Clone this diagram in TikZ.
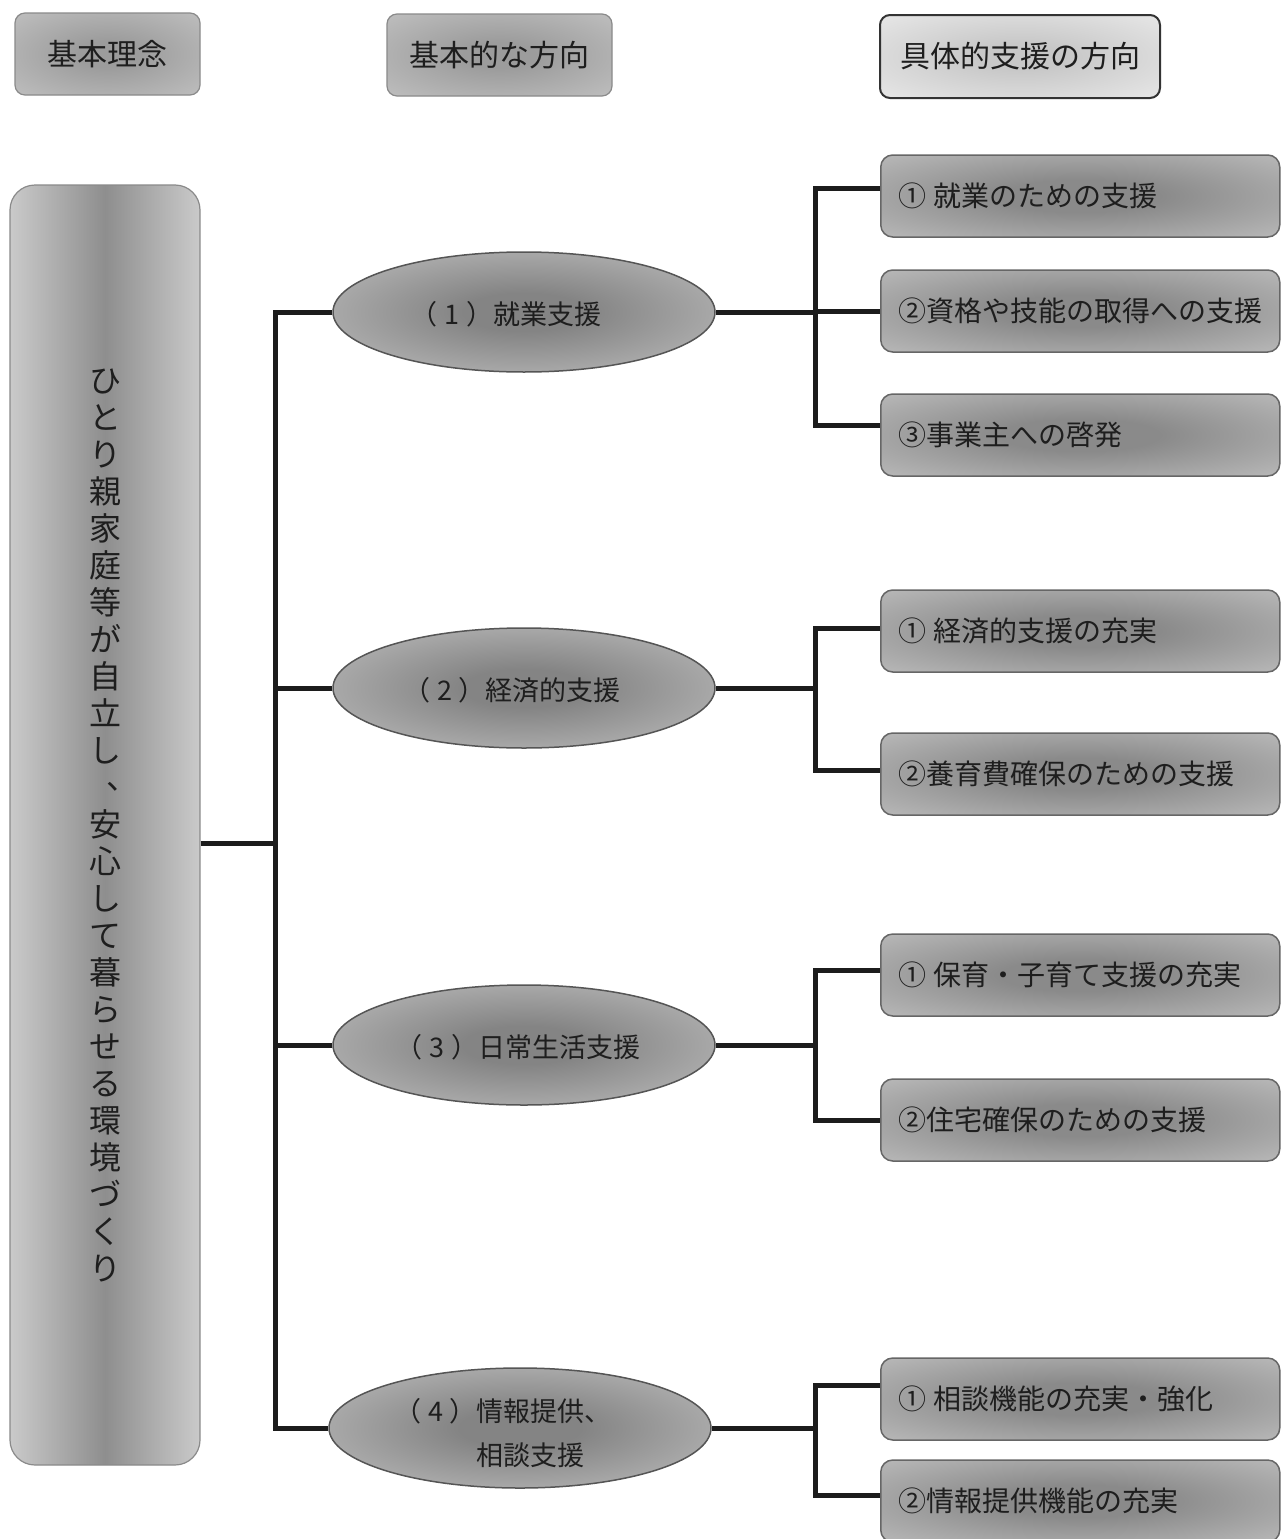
\documentclass[tikz,border=0pt]{standalone}
\usepackage{fontspec}
\setmainfont{Noto Sans CJK JP}
\usetikzlibrary{shapes.geometric}
\definecolor{boxin}{HTML}{8A8A8A}
\definecolor{boxout}{HTML}{C4C4C4}
\definecolor{ellin}{HTML}{848484}
\definecolor{ellout}{HTML}{C8C8C8}
\definecolor{hdrin}{HTML}{9C9C9C}
\definecolor{hdrout}{HTML}{C6C6C6}
\definecolor{ltin}{HTML}{C8C8C8}
\definecolor{ltout}{HTML}{EEEEEE}
\definecolor{leftin}{HTML}{8E8E8E}
\definecolor{leftout}{HTML}{CACACA}
\definecolor{boxline}{HTML}{666666}
\definecolor{ellline}{HTML}{555555}
\definecolor{hdrline}{HTML}{8A8A8A}
\definecolor{darkline}{HTML}{333333}
\definecolor{linec}{HTML}{1C1C1C}
\definecolor{textc}{HTML}{1E1E1E}
\pgfdeclareradialshading{boxshade}{\pgfpoint{0bp}{0bp}}{color(0bp)=(boxin); color(10bp)=(boxin); color(42bp)=(boxout); color(50bp)=(boxout)}
\pgfdeclareradialshading{ellshade}{\pgfpoint{0bp}{0bp}}{color(0bp)=(ellin); color(8bp)=(ellin); color(40bp)=(ellout); color(50bp)=(ellout)}
\pgfdeclareradialshading{hdrshade}{\pgfpoint{0bp}{0bp}}{color(0bp)=(hdrin); color(8bp)=(hdrin); color(42bp)=(hdrout); color(50bp)=(hdrout)}
\pgfdeclareradialshading{ltshade}{\pgfpoint{0bp}{0bp}}{color(0bp)=(ltin); color(8bp)=(ltin); color(42bp)=(ltout); color(50bp)=(ltout)}
\newcommand{\vcm}{\makebox[1em][l]{\hspace{0.55em}\raisebox{0.3em}{、}}}
\newcommand{\num}[1]{（\hspace{0.25em}#1\hspace{0.25em}）}
\begin{document}
\begin{tikzpicture}[x=1pt,y=-1pt,
  conn/.style={line width=5pt, draw=linec},
  hdr/.style={rectangle, rounded corners=10pt, draw=hdrline, line width=1.2pt, shade, shading=hdrshade, minimum height=82pt, font=\fontsize{30}{36}\selectfont, text=textc},
  hdrlt/.style={rectangle, rounded corners=10pt, draw=darkline, line width=2pt, shade, shading=ltshade, minimum height=83pt, font=\fontsize{30}{36}\selectfont, text=textc},
  rbox/.style={rectangle, rounded corners=12pt, draw=boxline, line width=1.5pt, shade, shading=boxshade, minimum width=399pt, minimum height=82pt, text width=363pt, inner xsep=18pt, align=left, anchor=west, font=\fontsize{28}{34}\selectfont, text=textc},
  ell/.style={ellipse, draw=ellline, line width=1.5pt, shade, shading=ellshade, minimum width=382pt, minimum height=120pt, inner sep=0pt, align=left, font=\fontsize{27}{44}\selectfont, text=textc},
  elltext/.style={font=\fontsize{27}{44}\selectfont, text=textc, align=left, inner sep=0pt},
  leftbox/.style={rectangle, rounded corners=25pt, draw=hdrline, line width=1.2pt, left color=leftout, right color=leftout, middle color=leftin, minimum width=190pt, minimum height=1280pt, align=center, font=\fontsize{32}{37}\selectfont, text=textc}
]
\useasboundingbox (0,0) rectangle (1281,1539);
\clip (0,0) rectangle (1281,1539);
\fill[white] (0,0) rectangle (1281,1539);

% headers
\node[hdr, minimum width=185pt] (H1) at (107.5,54) {基本理念};
\node[hdr, minimum width=225pt] (H2) at (499.5,55) {基本的な方向};
\node[hdrlt, minimum width=280pt] (H3) at (1020,56.5) {具体的支援の方向};

% left concept box
\node[leftbox] (L) at (105,825) {ひ\\と\\り\\親\\家\\庭\\等\\が\\自\\立\\し\\\vcm\\安\\心\\し\\て\\暮\\ら\\せ\\る\\環\\境\\づ\\く\\り};

% ellipses
\node[ell] (E1) at (524,312) {};
\node[ell] (E2) at (524,688) {};
\node[ell] (E3) at (524,1045) {};
\node[ell] (E4) at (520,1428) {};
\node[elltext] (t1) at (506,314) {\num{1}就業支援};
\node[elltext] (t2) at (512,690) {\num{2}経済的支援};
\node[elltext] (t3) at (518,1047) {\num{3}日常生活支援};
\node[elltext] (t4) at (503,1433) {\num{4}情報提供、\\\phantom{\num{4}}相談支援};

% right boxes
\node[rbox] (R11) at (880,196) {①\hspace{0.25em}就業のための支援};
\node[rbox] (R12) at (880,311) {②資格や技能の取得への支援};
\node[rbox] (R13) at (880,435) {③事業主への啓発};
\node[rbox] (R21) at (880,631) {①\hspace{0.25em}経済的支援の充実};
\node[rbox] (R22) at (880,774) {②養育費確保のための支援};
\node[rbox] (R31) at (880,975) {①\hspace{0.25em}保育・子育て支援の充実};
\node[rbox] (R32) at (880,1120) {②住宅確保のための支援};
\node[rbox] (R41) at (880,1399) {①\hspace{0.25em}相談機能の充実・強化};
\node[rbox] (R42) at (880,1501) {②情報提供機能の充実};

% trunk
\coordinate (T) at (275,843);
\draw[conn] (L.east |- T) -- (T);
\draw[conn] (E1.west) -| (E4.west -| T) -- (E4.west);
\draw[conn] (E2.west) -- (E2.west -| T);
\draw[conn] (E3.west) -- (E3.west -| T);

% brackets
\coordinate (B1) at (815,312);
\coordinate (B2) at (815,688);
\coordinate (B3) at (815,1045);
\coordinate (B4) at (815,1428);
\draw[conn] (E1.east) -- (B1);
\draw[conn] ([yshift=8pt]R11.west) -| (B1) |- ([yshift=10pt]R13.west);
\draw[conn] (R12.west) -- (R12.west -| B1);
\draw[conn] (E2.east) -- (B2);
\draw[conn] ([yshift=3pt]R21.west) -| (B2) |- ([yshift=4pt]R22.west);
\draw[conn] (E3.east) -- (B3);
\draw[conn] ([yshift=5pt]R31.west) -| (B3) |- (R32.west);
\draw[conn] (E4.east) -- (B4);
\draw[conn] ([yshift=14pt]R41.west) -| (B4) |- ([yshift=6pt]R42.west);
\end{tikzpicture}
\end{document}
